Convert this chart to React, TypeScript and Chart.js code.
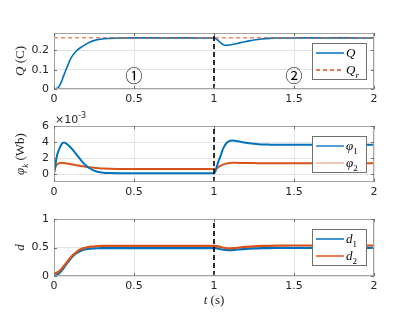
import React, { useEffect, useRef } from "react";
import { Chart, registerables } from "chart.js";

Chart.register(...registerables);

const BLUE = "#0072BD";
const ORANGE = "#D95319";

// ---------- data ----------
const xTicks = [0, 0.5, 1, 1.5, 2];
const switchTime = 1;

// Panel 1: Q (C)
const tQ = [0, 0.01, 0.02, 0.03, 0.04, 0.05, 0.06, 0.08, 0.1, 0.12, 0.14, 0.16, 0.18, 0.2, 0.23, 0.26, 0.3, 0.35, 0.4, 0.5, 0.6, 0.7, 0.8, 0.9, 1.0, 1.02, 1.04, 1.06, 1.08, 1.1, 1.13, 1.16, 1.2, 1.25, 1.3, 1.35, 1.4, 1.5, 1.6, 1.7, 1.8, 1.9, 2.0];
const qValues = [0, 0.001, 0.004, 0.012, 0.025, 0.045, 0.068, 0.11, 0.15, 0.178, 0.197, 0.211, 0.222, 0.232, 0.245, 0.253, 0.259, 0.262, 0.264, 0.265, 0.265, 0.264, 0.265, 0.264, 0.264, 0.255, 0.24, 0.229, 0.226, 0.228, 0.233, 0.239, 0.246, 0.254, 0.259, 0.262, 0.264, 0.264, 0.265, 0.264, 0.265, 0.264, 0.264];
const qRef = 0.265;
const qTicks = [0, 0.1, 0.2];

// Panel 2: phi_k (x1e-3 Wb)
const tPhi = [0, 0.01, 0.02, 0.03, 0.04, 0.05, 0.06, 0.07, 0.08, 0.1, 0.12, 0.14, 0.16, 0.18, 0.2, 0.22, 0.25, 0.28, 0.31, 0.35, 0.4, 0.5, 0.6, 0.7, 0.8, 0.9, 1.0, 1.01, 1.02, 1.03, 1.04, 1.05, 1.06, 1.08, 1.1, 1.12, 1.15, 1.2, 1.25, 1.3, 1.35, 1.4, 1.5, 1.6, 1.7, 1.8, 1.9, 2.0];
const phi1Values = [0, 1.3, 2.4, 3.0, 3.45, 3.8, 3.95, 3.9, 3.75, 3.4, 2.95, 2.45, 1.95, 1.45, 1.05, 0.75, 0.42, 0.25, 0.15, 0.12, 0.1, 0.1, 0.1, 0.1, 0.1, 0.1, 0.1, 0.4, 1.1, 1.7, 2.2, 2.8, 3.3, 3.9, 4.15, 4.2, 4.1, 3.9, 3.78, 3.7, 3.67, 3.65, 3.65, 3.65, 3.65, 3.65, 3.65, 3.65];
const phi2Values = [0.3, 0.9, 1.2, 1.33, 1.38, 1.4, 1.38, 1.35, 1.32, 1.25, 1.18, 1.1, 1.03, 0.96, 0.9, 0.85, 0.78, 0.72, 0.68, 0.65, 0.63, 0.62, 0.62, 0.62, 0.62, 0.62, 0.62, 0.64, 0.75, 0.9, 1.02, 1.12, 1.2, 1.32, 1.38, 1.4, 1.39, 1.37, 1.36, 1.35, 1.35, 1.35, 1.35, 1.35, 1.35, 1.35, 1.35, 1.35];
const phiTicks = [0, 2, 4, 6];

// Panel 3: d
const tD = [0, 0.02, 0.04, 0.06, 0.08, 0.1, 0.12, 0.14, 0.16, 0.18, 0.2, 0.23, 0.26, 0.3, 0.35, 0.4, 0.5, 0.6, 0.7, 0.8, 0.9, 1.0, 1.02, 1.04, 1.06, 1.08, 1.1, 1.13, 1.16, 1.2, 1.25, 1.3, 1.4, 1.5, 1.6, 1.7, 1.8, 1.9, 2.0];
const d1Values = [0, 0.02, 0.07, 0.14, 0.22, 0.29, 0.35, 0.4, 0.43, 0.455, 0.47, 0.48, 0.485, 0.49, 0.49, 0.49, 0.49, 0.49, 0.49, 0.49, 0.49, 0.49, 0.485, 0.47, 0.46, 0.455, 0.455, 0.46, 0.468, 0.477, 0.485, 0.49, 0.495, 0.495, 0.495, 0.495, 0.495, 0.495, 0.495];
const d2Values = [0.04, 0.06, 0.1, 0.17, 0.24, 0.31, 0.37, 0.42, 0.46, 0.485, 0.5, 0.515, 0.522, 0.527, 0.53, 0.53, 0.53, 0.53, 0.53, 0.53, 0.53, 0.53, 0.525, 0.51, 0.495, 0.485, 0.483, 0.49, 0.5, 0.51, 0.52, 0.527, 0.533, 0.535, 0.535, 0.535, 0.535, 0.535, 0.535];
const dTicks = [0, 0.5, 1];

// ---------- helpers ----------
type Seg = { t: string; it?: boolean; sub?: boolean; sup?: boolean; fam?: string };
const SERIF = '"Liberation Serif", "DejaVu Serif", serif';
const SANS = '"DejaVu Sans", sans-serif';

function drawRich(ctx: CanvasRenderingContext2D, segs: Seg[], x: number, y: number, size: number, align: "left" | "center", family = SERIF) {
  const fontFor = (s: Seg) => `${s.it ? "italic " : ""}${s.sub || s.sup ? Math.round(size * 0.72) : size}px ${s.fam || family}`;
  let total = 0;
  const ws = segs.map((s) => {
    ctx.font = fontFor(s);
    const w = ctx.measureText(s.t).width;
    total += w;
    return w;
  });
  let cx = align === "center" ? x - total / 2 : x;
  ctx.textAlign = "left";
  ctx.textBaseline = "alphabetic";
  segs.forEach((s, i) => {
    ctx.font = fontFor(s);
    const dy = s.sub ? size * 0.28 : s.sup ? -size * 0.42 : 0;
    ctx.fillText(s.t, cx, y + dy);
    cx += ws[i];
  });
}

const pts = (xs: number[], ys: number[]) => xs.map((x, i) => ({ x, y: ys[i] }));

type LegendRow = { color: string; width: number; dash?: number[]; label: Seg[] };
type Spec = {
  top: number;
  h: number;
  padBottom: number;
  yMin: number;
  yMax: number;
  yTicks: number[];
  datasets: any[];
  yTitle: Seg[];
  legend: LegendRow[];
  extra?: (ctx: CanvasRenderingContext2D, chart: any) => void;
};

const decor = {
  id: "decor",
  afterDraw(chart: any, _args: any, opts: any) {
    const spec: Spec = opts.spec;
    const { ctx, chartArea: a, scales } = chart;
    ctx.save();
    // box
    ctx.strokeStyle = "#a3a3a3";
    ctx.lineWidth = 1;
    ctx.strokeRect(a.left + 0.5, a.top + 0.5, a.right - a.left - 1, a.bottom - a.top - 1);
    // inward ticks
    ctx.strokeStyle = "#6f6f6f";
    ctx.beginPath();
    xTicks.forEach((v) => {
      const px = Math.round(scales.x.getPixelForValue(v)) + 0.5;
      ctx.moveTo(px, a.bottom);
      ctx.lineTo(px, a.bottom - 3);
      ctx.moveTo(px, a.top);
      ctx.lineTo(px, a.top + 3);
    });
    spec.yTicks.forEach((v) => {
      const py = Math.round(scales.y.getPixelForValue(v)) + 0.5;
      ctx.moveTo(a.left, py);
      ctx.lineTo(a.left + 3, py);
      ctx.moveTo(a.right, py);
      ctx.lineTo(a.right - 3, py);
    });
    ctx.stroke();

    // y title
    ctx.fillStyle = "#262626";
    ctx.save();
    ctx.translate(24, (a.top + a.bottom) / 2);
    ctx.rotate(-Math.PI / 2);
    drawRich(ctx, spec.yTitle, 0, 0, 13, "center");
    ctx.restore();

    if (spec.extra) spec.extra(ctx, chart);

    // legend
    const w = 54, h = 36;
    const lx = a.right - 8 - w;
    const ly = a.top + 10;
    ctx.fillStyle = "#ffffff";
    ctx.fillRect(lx, ly, w, h);
    ctx.strokeStyle = "#707070";
    ctx.lineWidth = 1;
    ctx.strokeRect(Math.round(lx) + 0.5, Math.round(ly) + 0.5, w, h);
    spec.legend.forEach((r, i) => {
      const ry = ly + 10 + i * 17;
      ctx.strokeStyle = r.color;
      ctx.lineWidth = r.width;
      ctx.setLineDash(r.dash || []);
      ctx.beginPath();
      ctx.moveTo(lx + 4, ry);
      ctx.lineTo(lx + 32, ry);
      ctx.stroke();
      ctx.setLineDash([]);
      ctx.fillStyle = "#000000";
      drawRich(ctx, r.label, lx + 34, ry + 4, 13, "left");
    });
    ctx.restore();
  },
};

function buildConfig(spec: Spec): any {
  const tickFont = { family: SANS, size: 11 };
  return {
    type: "line",
    data: { datasets: spec.datasets },
    plugins: [decor],
    options: {
      animation: false,
      responsive: false,
      devicePixelRatio: 1,
      events: [],
      layout: { padding: { left: 0, right: 41, top: 33, bottom: spec.padBottom } },
      plugins: { legend: { display: false }, tooltip: { enabled: false }, decor: { spec } },
      elements: { point: { radius: 0 } },
      scales: {
        x: {
          type: "linear",
          min: 0,
          max: 2,
          afterBuildTicks: (s: any) => {
            s.ticks = xTicks.map((v) => ({ value: v }));
          },
          afterFit: (s: any) => {
            s.height = 21;
          },
          grid: { color: "#e3e3e3", drawTicks: false },
          border: { display: false },
          ticks: { font: tickFont, color: "#262626", padding: 4, maxRotation: 0, callback: (v: number) => String(v) },
        },
        y: {
          type: "linear",
          min: spec.yMin,
          max: spec.yMax,
          afterBuildTicks: (s: any) => {
            s.ticks = spec.yTicks.map((v) => ({ value: v }));
          },
          afterFit: (s: any) => {
            s.width = 54;
          },
          grid: { color: "#e3e3e3", drawTicks: false },
          border: { display: false },
          ticks: { font: tickFont, color: "#262626", padding: 5, callback: (v: number) => String(v) },
        },
      },
    },
  };
}

const vline = (yMin: number, yMax: number) => ({
  data: [
    { x: switchTime, y: yMin },
    { x: switchTime, y: yMax },
  ],
  borderColor: "#000000",
  borderWidth: 1.6,
  borderDash: [5, 3],
  pointRadius: 0,
  tension: 0,
  order: 0,
});

const curve = (xs: number[], ys: number[], color: string, width: number, order: number) => ({
  data: pts(xs, ys),
  borderColor: color,
  borderWidth: width,
  pointRadius: 0,
  cubicInterpolationMode: "monotone",
  order,
});

const specs: Spec[] = [
  {
    top: 0,
    h: 110,
    padBottom: 0,
    yMin: 0,
    yMax: 0.29,
    yTicks: qTicks,
    datasets: [
      vline(0, 0.29),
      {
        data: [
          { x: 0, y: qRef },
          { x: 2, y: qRef },
        ],
        borderColor: ORANGE,
        borderWidth: 1,
        borderDash: [4, 3],
        pointRadius: 0,
        order: 1,
      },
      curve(tQ, qValues, BLUE, 1.6, 2),
    ],
    yTitle: [{ t: "Q", it: true }, { t: " (C)" }],
    legend: [
      { color: BLUE, width: 1.5, label: [{ t: "Q", it: true }] },
      { color: ORANGE, width: 1.5, dash: [4, 3], label: [{ t: "Q", it: true }, { t: "r", it: true, sub: true }] },
    ],
    extra: (ctx, chart) => {
      const { x, y } = chart.scales;
      ctx.fillStyle = "#000000";
      ctx.font = `17px "Noto Sans CJK JP", "DejaVu Sans", serif`;
      ctx.textAlign = "center";
      ctx.textBaseline = "middle";
      ctx.fillText("①", x.getPixelForValue(0.5), y.getPixelForValue(0.07));
      ctx.fillText("②", x.getPixelForValue(1.5), y.getPixelForValue(0.07));
    },
  },
  {
    top: 93,
    h: 110,
    padBottom: 0,
    yMin: -1,
    yMax: 6,
    yTicks: phiTicks,
    datasets: [vline(-1, 6), curve(tPhi, phi2Values, ORANGE, 2, 2), curve(tPhi, phi1Values, BLUE, 2, 1)],
    yTitle: [{ t: "φ", it: true }, { t: "k", it: true, sub: true }, { t: " (Wb)" }],
    legend: [
      { color: "#5aa0d6", width: 2, label: [{ t: "φ", it: true }, { t: "1", sub: true }] },
      { color: "#f3c9b6", width: 2, label: [{ t: "φ", it: true }, { t: "2", sub: true }] },
    ],
    extra: (ctx, chart) => {
      const a = chart.chartArea;
      ctx.fillStyle = "#262626";
      drawRich(ctx, [{ t: "×10", fam: SANS }, { t: "-3", sup: true, fam: SANS }], a.left + 1, a.top - 3, 11, "left", SANS);
    },
  },
  {
    top: 186,
    h: 126,
    padBottom: 15,
    yMin: 0,
    yMax: 1,
    yTicks: dTicks,
    datasets: [vline(0, 1), curve(tD, d2Values, ORANGE, 2.2, 1), curve(tD, d1Values, BLUE, 2.2, 2)],
    yTitle: [{ t: "d", it: true }],
    legend: [
      { color: BLUE, width: 1.5, label: [{ t: "d", it: true }, { t: "1", sub: true }] },
      { color: ORANGE, width: 1.5, label: [{ t: "d", it: true }, { t: "2", sub: true }] },
    ],
    extra: (ctx, chart) => {
      const a = chart.chartArea;
      ctx.fillStyle = "#262626";
      drawRich(ctx, [{ t: "t", it: true }, { t: " (s)" }], (a.left + a.right) / 2, a.bottom + 28, 13, "center");
    },
  },
];

function Panel({ spec }: { spec: Spec }) {
  const ref = useRef<HTMLCanvasElement>(null);
  useEffect(() => {
    const chart = new Chart(ref.current as HTMLCanvasElement, buildConfig(spec));
    return () => chart.destroy();
  }, [spec]);
  return (
    <canvas
      ref={ref}
      width={415}
      height={spec.h}
      style={{ position: "absolute", left: 0, top: spec.top, width: 415, height: spec.h, display: "block" }}
    />
  );
}

export default function App() {
  return (
    <div style={{ position: "fixed", left: 0, top: 0, width: 415, height: 312, background: "#ffffff", overflow: "hidden" }}>
      {specs.map((s, i) => (
        <Panel key={i} spec={s} />
      ))}
    </div>
  );
}
